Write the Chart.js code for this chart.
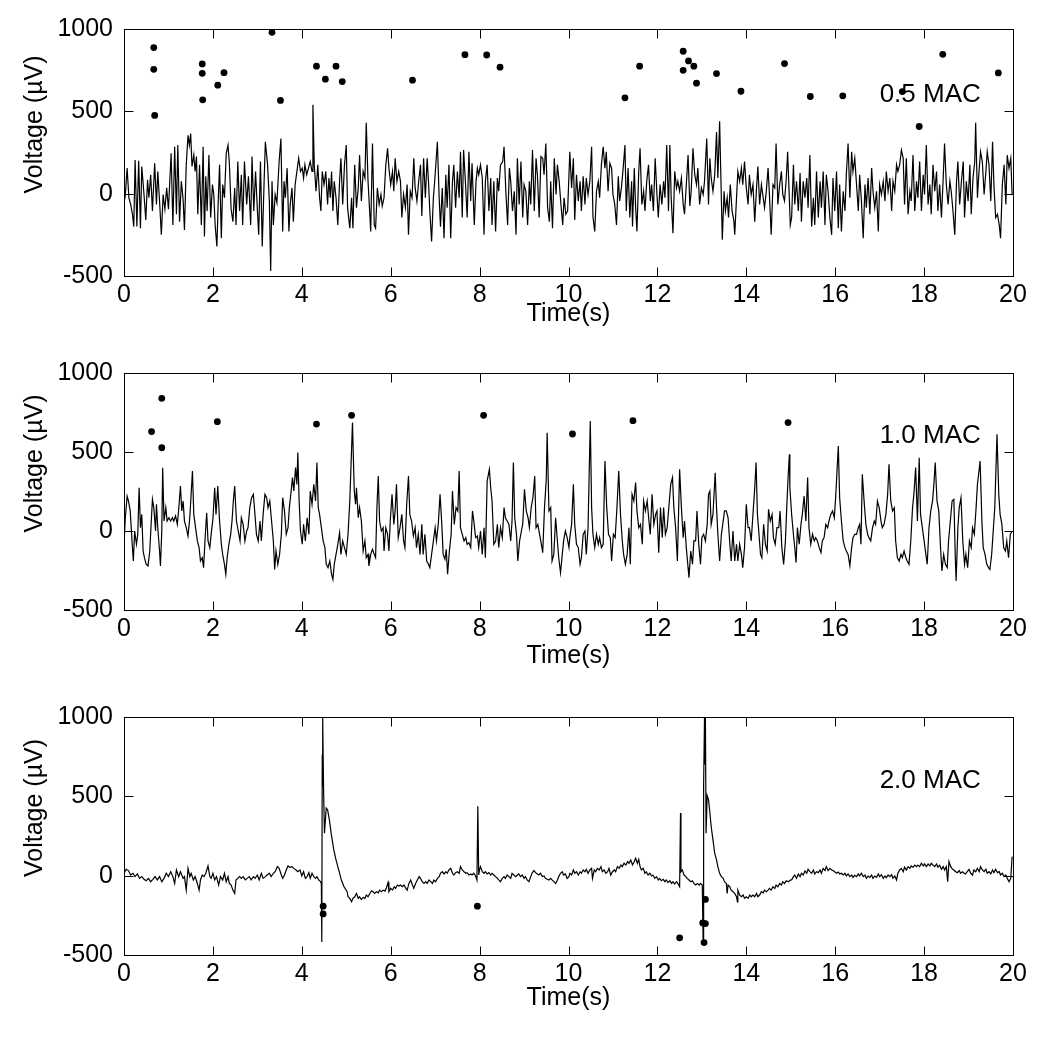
<!DOCTYPE html>
<html>
<head>
<meta charset="utf-8">
<script src="https://cdn.jsdelivr.net/npm/chart.js@4.4.1/dist/chart.umd.min.js"></script>
<style>
body{margin:0;background:#fff;}
#wrap{position:relative;width:1050px;height:1037px;background:#fff;}
.panel{position:absolute;left:0;width:1050px;}
canvas{display:block;}
</style>
</head>
<body>
<div id="wrap">
  <div class="panel" style="top:0;height:344px"><canvas id="c05" width="1050" height="344"></canvas></div>
  <div class="panel" style="top:344px;height:344px"><canvas id="c10" width="1050" height="344"></canvas></div>
  <div class="panel" style="top:688px;height:349px"><canvas id="c20" width="1050" height="349"></canvas></div>
</div>
<script>
// tick labels
const xTicks = [0, 2, 4, 6, 8, 10, 12, 14, 16, 18, 20];
const yTicks = [-500, 0, 500, 1000];

// 0.5 MAC trace (s, µV)
const time05 = [
0.00,0.03,0.07,0.11,0.15,0.19,0.22,0.25,0.29,0.33,
0.37,0.40,0.45,0.49,0.53,0.56,0.60,0.64,0.69,0.73,
0.76,0.80,0.84,0.88,0.92,0.96,1.00,1.03,1.06,1.10,
1.14,1.18,1.21,1.25,1.29,1.33,1.36,1.40,1.44,1.47,
1.50,1.53,1.57,1.60,1.63,1.66,1.70,1.74,1.78,1.81,
1.84,1.87,1.91,1.95,1.99,2.02,2.05,2.09,2.12,2.15,
2.19,2.22,2.26,2.30,2.34,2.37,2.41,2.45,2.49,2.52,
2.56,2.60,2.64,2.67,2.71,2.76,2.80,2.85,2.88,2.92,
2.96,3.00,3.03,3.07,3.11,3.15,3.18,3.23,3.27,3.30,
3.33,3.36,3.40,3.44,3.49,3.53,3.57,3.60,3.63,3.67,
3.71,3.74,3.78,3.81,3.85,3.89,3.93,3.97,4.01,4.04,
4.07,4.11,4.15,4.19,4.23,4.25,4.28,4.32,4.36,4.40,
4.43,4.46,4.50,4.54,4.58,4.61,4.64,4.67,4.70,4.73,
4.77,4.81,4.85,4.88,4.92,4.96,5.00,5.03,
5.08,5.12,5.15,5.19,5.23,5.27,5.30,5.34,5.38,5.42,
5.45,5.49,5.53,5.55,5.59,5.63,5.66,5.70,5.74,5.78,
5.81,5.85,5.89,5.93,5.96,6.00,6.04,6.07,6.10,6.14,
6.18,6.22,6.25,6.29,6.33,6.37,6.40,6.44,6.48,6.52,
6.55,6.59,6.63,6.67,6.70,6.74,6.78,6.82,6.85,6.88,
6.92,6.96,6.99,7.05,7.09,7.12,7.16,7.20,7.24,7.27,
7.31,7.35,7.39,7.42,7.46,7.50,7.54,7.57,7.61,7.64,
7.68,7.72,7.76,7.80,7.83,7.88,7.92,7.95,7.98,8.02,
8.06,8.10,8.13,8.17,8.21,8.25,8.28,8.32,8.36,8.40,
8.43,8.47,8.52,8.55,8.59,8.63,8.67,8.70,8.74,8.78,
8.82,8.85,8.89,8.93,8.97,9.00,9.04,9.08,9.12,9.15,
9.19,9.23,9.27,9.30,9.34,9.38,9.42,9.45,9.49,9.53,
9.57,9.60,9.64,9.68,9.72,9.75,9.79,9.83,9.87,9.90,
9.94,9.98,
10.03,10.07,10.11,10.14,10.18,10.22,10.26,10.29,10.33,10.37,
10.40,10.44,10.48,10.52,10.55,10.59,10.63,10.67,10.70,10.74,
10.78,10.82,10.85,10.89,10.93,10.97,11.00,11.04,11.08,11.12,
11.15,11.19,11.23,11.27,11.30,11.34,11.38,11.42,11.44,11.48,
11.51,11.54,11.58,11.61,11.65,11.69,11.72,11.76,11.80,11.84,
11.87,11.91,11.95,11.99,12.02,12.06,12.10,12.14,12.17,12.21,
12.25,12.28,12.31,12.35,12.39,12.43,12.46,12.50,12.54,12.58,
12.61,12.65,12.69,12.73,12.76,12.80,12.84,12.88,12.91,12.95,
12.99,13.03,13.06,13.11,13.15,13.18,13.21,13.25,13.29,13.33,
13.36,13.40,13.43,13.46,13.50,13.53,13.57,13.60,13.64,13.68,
13.72,13.74,13.78,13.81,13.85,13.89,13.92,13.96,14.00,14.04,
14.07,14.11,14.15,14.19,14.23,14.26,14.30,14.34,14.38,14.41,
14.45,14.49,14.52,14.56,14.60,14.64,14.67,14.71,14.75,14.79,
14.82,14.86,14.90,14.93,14.99,
15.02,15.06,15.09,15.13,15.17,15.21,15.24,15.28,15.32,15.36,
15.39,15.43,15.47,15.51,15.54,15.58,15.62,15.66,15.69,15.73,
15.77,15.80,15.84,15.88,15.92,15.95,15.99,16.03,16.07,16.10,
16.14,16.18,16.22,16.25,16.29,16.33,16.37,16.40,16.44,16.48,
16.52,16.55,16.59,16.63,16.67,16.70,16.74,16.78,16.82,16.85,
16.89,16.93,16.97,17.00,17.04,17.08,17.12,17.15,17.19,17.23,
17.27,17.30,17.34,17.38,17.41,17.45,17.49,17.53,17.56,17.60,
17.64,17.68,17.71,17.75,17.79,17.83,17.86,17.90,17.94,17.98,
18.01,18.05,18.09,18.13,18.16,18.20,18.24,18.28,18.31,18.35,
18.39,18.43,18.46,18.50,18.54,18.58,18.61,18.65,18.69,18.73,
18.76,18.80,18.84,18.88,18.91,18.95,18.99,19.03,19.06,19.10,
19.14,19.16,19.20,19.23,19.27,19.31,19.35,19.39,19.42,19.46,
19.50,19.54,19.57,19.61,19.65,19.69,19.72,19.76,19.80,19.84,
19.87,19.91,19.95,19.98
];
const volt05 = [
55,-5,155,-25,-65,-125,-200,205,-200,200,
-210,165,-5,-160,85,-25,115,-105,185,-65,
135,-45,-250,-5,-95,35,-95,75,245,-190,
285,-125,295,-170,75,-35,-220,175,355,295,
365,165,235,135,225,-125,175,-190,285,-260,
105,-105,235,-145,55,-5,-190,-320,-45,175,
-270,55,-25,245,295,185,-95,-170,35,-190,
195,-105,115,-190,195,-65,105,-190,225,-105,
135,-95,-250,195,-320,55,315,175,-45,-470,
75,-190,-5,-55,195,335,-230,75,-25,155,
-230,-65,35,-170,55,135,215,135,155,95,
175,115,155,195,135,540,175,15,175,-25,
-105,135,55,135,-65,95,-25,135,-105,75,
-25,-190,75,215,-65,175,295,-85,
-210,-25,-210,175,-85,35,235,-45,135,95,
430,75,-125,-230,305,-190,-210,35,-65,-5,
-75,-25,175,275,155,55,135,15,215,75,
135,75,-145,-5,-85,55,-250,15,-25,215,
35,-45,75,175,-135,215,-25,215,75,-105,
-290,-25,75,315,-25,-200,35,-270,115,-85,
175,-270,75,175,-85,135,-25,255,-145,265,
75,-145,255,-45,185,-190,75,155,115,175,
95,-250,75,175,-105,95,-190,75,-230,95,
15,175,195,285,15,-190,155,75,-105,15,
-250,215,-65,195,-145,55,15,-190,75,-65,
265,-105,215,115,-145,225,215,115,305,-85,
-170,75,-210,215,-5,175,75,-65,-190,-25,
-125,-105,
255,35,215,-160,115,-45,75,-105,105,-65,
95,-5,75,285,-140,-230,15,75,-25,175,
285,155,255,15,185,155,-5,-65,-190,105,
-45,35,155,295,-105,155,-145,75,-200,155,
-85,-230,135,275,-65,15,-105,75,175,-45,
55,-105,215,-5,-145,55,-65,75,-25,295,
-105,295,-25,-240,135,35,75,15,95,-65,
-125,55,235,-75,15,275,115,55,155,-65,
35,-5,75,335,-65,215,95,15,115,375,
95,440,75,-280,15,-105,-25,-145,55,-105,
-165,-250,-25,135,75,155,55,195,35,-65,
115,-5,55,-170,35,165,-65,55,-25,-85,
15,155,-5,-250,55,35,305,-65,55,135,
-5,-45,95,255,-190,
-145,175,-65,75,-105,125,-170,75,-25,95,
-85,235,-200,-25,-190,135,-145,75,-85,135,
-190,115,15,-145,-250,95,-105,135,-210,55,
-230,15,-105,115,305,-25,255,135,215,55,
-105,115,-45,-270,55,-85,95,-125,155,15,
-85,15,-230,55,-5,75,-45,135,15,95,
-105,75,15,175,135,175,265,215,-65,215,
-125,15,-45,235,-105,75,-25,195,-105,115,
-5,295,-65,55,-125,175,15,135,-105,55,
-145,95,305,55,-65,75,15,-105,-250,75,
195,-65,75,195,-145,75,-45,175,-125,95,
195,430,-25,115,255,195,-5,135,255,175,
-45,315,55,-145,-125,-190,-270,55,175,-65,
235,155,215,-5
];
const dotTime05 = [0.67,0.67,0.69,1.76,1.76,1.77,2.11,2.25,3.33,3.52,4.33,4.53,4.77,4.91,6.49,7.67,8.16,8.46,11.27,11.60,12.58,12.70,12.58,12.82,12.88,13.33,13.88,14.86,15.44,16.17,17.51,17.89,18.42,19.67];
const dotVolt05 = [887,755,475,788,731,570,659,735,980,566,774,695,774,681,689,844,842,768,582,774,865,806,749,774,671,729,622,790,590,594,620,408,846,733];

// 1.0 MAC trace
const time10 = [
0.00,0.03,0.07,0.10,0.14,0.18,0.21,0.24,0.28,0.31,
0.34,0.37,0.40,0.43,0.46,0.50,0.54,0.58,0.61,0.64,
0.67,0.71,0.73,0.76,0.80,0.82,0.85,0.87,0.90,0.94,
0.97,1.01,1.05,1.09,1.12,1.16,1.20,1.24,1.27,1.30,
1.33,1.36,1.40,1.44,1.48,1.51,1.54,1.57,1.61,1.65,
1.69,1.72,1.76,1.79,1.83,1.86,1.89,1.93,1.96,2.00,
2.04,2.07,2.11,2.15,2.19,2.22,2.26,2.29,2.32,2.36,
2.40,2.43,2.46,2.49,2.53,2.57,2.61,2.64,2.68,2.72,
2.76,2.79,2.83,2.87,2.91,2.94,2.98,3.02,3.06,3.09,
3.13,3.17,3.21,3.24,3.28,3.32,3.36,3.39,3.42,3.46,
3.50,3.54,3.57,3.61,3.65,3.69,3.72,3.76,3.79,3.82,
3.86,3.89,3.91,3.94,3.97,4.01,4.04,4.08,4.12,4.16,
4.19,4.23,4.27,4.31,4.34,4.37,4.40,4.44,4.48,4.52,
4.55,4.59,4.63,4.67,4.70,4.73,4.77,4.81,4.85,4.88,
4.92,4.96,5.00,
5.04,5.08,5.14,5.18,5.21,5.23,5.27,5.30,5.34,5.38,
5.42,5.45,5.49,5.51,5.55,5.59,5.63,5.66,5.69,5.72,
5.75,5.79,5.83,5.85,5.89,5.93,5.96,5.99,6.03,6.07,
6.10,6.13,6.17,6.21,6.25,6.29,6.32,6.36,6.40,6.43,
6.47,6.51,6.55,6.58,6.62,6.66,6.70,6.73,6.77,6.81,
6.85,6.88,6.92,6.96,7.00,7.03,7.07,7.11,7.15,7.18,
7.22,7.25,7.28,7.32,7.36,7.39,7.43,7.47,7.51,7.54,
7.57,7.61,7.65,7.69,7.72,7.76,7.80,7.84,7.87,7.91,
7.95,7.98,8.02,8.06,8.10,8.13,8.17,8.22,8.25,8.28,
8.32,8.36,8.40,8.43,8.47,8.51,8.55,8.58,8.62,8.66,
8.70,8.73,8.76,8.79,8.83,8.86,8.90,8.94,8.97,9.01,
9.05,9.09,9.12,9.16,9.20,9.24,9.27,9.31,9.35,9.39,
9.42,9.46,9.50,9.52,9.56,9.60,9.63,9.67,9.71,9.75,
9.78,9.82,9.86,9.89,9.93,9.97,10.01,
10.03,10.07,10.11,10.14,10.18,10.22,10.26,10.29,10.33,10.37,
10.40,10.44,10.49,10.52,10.55,10.59,10.63,10.67,10.70,10.74,
10.78,10.82,10.86,10.90,10.94,10.97,11.01,11.05,11.09,11.13,
11.17,11.21,11.24,11.28,11.32,11.36,11.39,11.43,11.47,11.51,
11.54,11.58,11.62,11.66,11.69,11.73,11.77,11.81,11.84,11.88,
11.92,11.96,11.99,12.03,12.07,12.11,12.14,12.18,12.22,12.25,
12.30,12.34,12.37,12.41,12.45,12.50,12.54,12.58,12.61,12.65,
12.69,12.71,12.75,12.79,12.82,12.86,12.89,12.93,12.97,13.00,
13.04,13.08,13.12,13.15,13.18,13.21,13.25,13.30,13.33,13.36,
13.40,13.44,13.48,13.51,13.55,13.59,13.63,13.66,13.70,13.74,
13.78,13.81,13.85,13.89,13.92,13.96,14.00,14.04,14.07,14.11,
14.15,14.19,14.22,14.25,14.28,14.32,14.35,14.39,14.43,14.47,
14.50,14.54,14.58,14.61,14.65,14.69,14.73,14.76,14.80,14.84,
14.88,14.91,14.94,14.97,
14.98,15.02,15.06,15.09,15.12,15.15,15.19,15.23,15.26,15.30,
15.34,15.38,15.41,15.45,15.49,15.53,15.56,15.60,15.64,15.68,
15.71,15.75,15.79,15.83,15.86,15.90,15.94,15.98,16.01,16.07,
16.10,16.14,16.18,16.22,16.25,16.29,16.33,16.37,16.40,16.44,
16.48,16.52,16.55,16.58,16.61,16.65,16.69,16.73,16.76,16.80,
16.84,16.88,16.91,16.95,16.99,17.03,17.06,17.10,17.14,17.18,
17.21,17.25,17.29,17.33,17.36,17.40,17.44,17.48,17.51,17.55,
17.59,17.62,17.66,17.70,17.74,17.77,17.81,17.85,17.89,17.92,
17.96,18.00,18.04,18.07,18.11,18.15,18.19,18.22,18.25,18.29,
18.33,18.37,18.40,18.44,18.48,18.52,18.55,18.59,18.63,18.67,
18.70,18.72,18.76,18.79,18.83,18.87,18.91,18.94,18.98,19.02,
19.06,19.09,19.13,19.17,19.20,19.26,19.30,19.33,19.37,19.41,
19.45,19.48,19.52,19.56,19.59,19.64,19.68,19.71,19.75,19.79,
19.83,19.86,19.90,19.94,19.98
];
const volt10 = [
-84,84,221,190,127,-63,-190,0,-84,-21,
274,21,105,-127,-169,-211,-221,-127,42,200,
148,0,169,21,-127,-221,0,401,63,148,
63,84,63,84,63,95,42,169,285,127,
190,63,21,-32,84,232,380,105,21,-63,
-105,-190,-169,-232,-21,116,-63,-105,-21,74,
274,105,285,63,-84,-148,-211,-274,-169,-84,
-21,63,190,285,63,0,-63,84,42,-63,
0,21,148,211,232,127,-21,-63,63,-63,
105,232,211,148,190,63,-63,-243,-127,-211,
-148,-21,211,127,-21,21,148,253,338,253,
401,295,496,190,0,-84,42,-63,84,-21,
253,169,295,190,433,148,105,21,-63,-105,
-211,-232,-190,-274,-306,-211,-148,-84,-11,-148,
-63,-105,-148,
-21,190,686,253,169,274,84,148,63,-127,
-63,-169,-148,-221,-148,-116,-148,-169,148,348,
63,0,21,-127,21,-21,-127,63,232,42,
127,295,-42,21,105,-63,-105,169,348,105,
63,-32,21,-105,-21,-148,42,-148,-21,-190,
-211,-232,-148,-63,21,-63,42,232,42,-148,
-179,-116,-274,-127,-21,253,42,148,127,380,
21,-21,-63,-42,-84,-74,-105,127,63,-42,
-32,-105,0,-148,21,-169,317,390,274,190,
-84,-63,42,-105,21,-42,148,84,63,42,
-63,63,433,84,-21,-190,-63,0,42,264,
127,84,21,148,211,348,21,42,-21,-84,
-137,148,327,622,127,148,-190,-148,84,-63,
-169,-264,-148,-63,0,-42,-105,
-42,42,295,42,-84,-105,-211,-169,-21,0,
-148,21,696,148,-21,-105,-21,-84,-42,-105,
-84,443,148,-21,-42,-190,-21,-42,148,380,
105,-63,-148,-211,-148,21,-211,232,190,306,
127,21,42,-84,190,127,190,63,-21,232,
42,105,127,-137,148,-42,148,-21,21,127,
295,338,148,21,-190,390,148,-42,63,-105,
-232,-295,-127,-211,-63,-63,127,-84,-211,-42,
-21,-63,42,232,253,42,105,369,148,-21,
-190,-21,63,127,127,84,-84,-190,0,-190,
-84,-190,-84,-148,-232,-105,169,21,21,-63,
105,274,433,105,0,-148,-169,42,-84,-127,
137,63,105,-42,-84,21,21,127,-105,-211,
-63,148,338,485,
274,105,-21,-105,-200,21,-84,42,105,221,
63,338,21,-84,-21,-63,-42,-63,-105,-137,
-63,-42,42,21,63,105,127,84,211,538,
211,63,-63,-105,-127,-148,-221,-105,-42,-21,
-21,21,42,-84,359,190,42,-21,-42,-63,
21,63,42,190,148,63,21,42,105,232,
422,190,127,148,-63,-169,-190,-148,-169,-127,
-169,-190,-211,-63,148,232,401,63,464,105,
21,-63,-148,-211,21,127,190,295,433,190,
127,-105,-253,-148,-211,-232,-63,63,190,200,
-148,-317,21,148,211,-63,-211,-148,-232,-63,
-105,21,-21,148,295,443,63,-105,-148,-211,
-232,-243,-148,21,148,612,232,105,42,-105,
-127,-63,-169,-21,0
];
const dotTime10 = [0.62,0.85,0.85,2.10,4.33,5.12,8.09,10.09,11.45,14.94];
const dotVolt10 = [629,840,527,692,677,732,732,614,698,686];

// 2.0 MAC trace
const time20 = [
0.00,0.05,0.10,0.15,0.20,0.25,0.30,0.35,0.40,0.45,
0.50,0.55,0.60,0.65,0.70,0.75,0.80,0.85,0.90,0.95,
1.00,1.05,1.10,1.14,1.18,1.23,1.27,1.33,1.36,1.40,
1.44,1.48,1.51,1.56,1.60,1.65,1.69,1.72,1.76,1.80,
1.84,1.89,1.93,1.96,2.00,2.04,2.08,2.13,2.17,2.22,
2.26,2.30,2.34,2.37,2.41,2.45,2.49,2.52,2.56,2.60,
2.64,2.68,2.73,2.77,2.82,2.86,2.91,2.95,3.00,3.04,
3.09,3.13,3.18,3.22,3.27,3.31,3.36,3.40,3.45,3.49,
3.54,3.57,3.61,3.65,3.69,3.73,3.78,3.82,3.87,3.91,
3.96,4.00,4.04,4.08,4.12,4.16,4.19,4.23,4.27,4.31,
4.34,4.38,4.42,4.44,4.45,4.46,4.465,4.47,4.475,4.49,
4.51,4.55,4.58,4.62,4.66,4.72,4.77,4.83,4.89,4.95,
5.02,
5.04,5.08,5.12,5.15,5.19,5.23,5.27,5.30,5.34,5.38,
5.42,5.45,5.49,5.53,5.57,5.60,5.64,5.68,5.72,5.75,
5.79,5.83,5.87,5.90,5.94,5.96,6.00,6.04,6.08,6.11,
6.15,6.19,6.22,6.26,6.30,6.34,6.37,6.41,6.45,6.49,
6.52,6.56,6.60,6.64,6.67,6.71,6.75,6.79,6.82,6.86,
6.90,6.94,6.97,7.01,7.05,7.09,7.12,7.16,7.20,7.24,
7.27,7.31,7.35,7.39,7.42,7.46,7.50,7.54,7.57,7.61,
7.65,7.69,7.72,7.76,7.80,7.83,7.87,7.91,7.94,7.96,
7.98,8.00,8.02,8.06,8.10,8.13,8.17,8.21,8.25,8.28,
8.32,8.36,8.40,8.43,8.47,8.51,8.55,8.58,8.62,8.66,
8.70,8.73,8.77,8.81,8.85,8.88,8.92,8.96,9.00,9.03,
9.07,9.11,9.15,9.18,9.22,9.26,9.30,9.33,9.37,9.41,
9.45,9.48,9.52,9.56,9.60,9.63,9.67,9.71,9.75,9.78,
9.82,9.86,9.89,9.93,9.97,10.01,
10.03,10.07,10.11,10.14,10.18,10.22,10.26,10.29,10.33,10.37,
10.40,10.44,10.48,10.52,10.54,10.58,10.61,10.65,10.69,10.73,
10.76,10.80,10.84,10.88,10.91,10.95,10.99,11.03,11.06,11.10,
11.14,11.18,11.21,11.25,11.29,11.33,11.36,11.40,11.44,11.48,
11.51,11.55,11.58,11.61,11.64,11.68,11.72,11.75,11.79,11.83,
11.87,11.90,11.94,11.98,12.02,12.05,12.09,12.13,12.17,12.20,
12.24,12.28,12.32,12.35,12.39,12.43,12.46,12.50,12.52,12.53,
12.56,12.60,12.64,12.67,12.71,12.75,12.79,12.82,12.86,12.90,
12.94,12.97,13.01,13.03,13.04,13.06,13.065,13.08,13.095,13.12,
13.15,13.18,13.21,13.25,13.29,13.33,13.36,13.40,13.44,13.48,
13.51,13.55,13.57,13.59,13.63,13.66,13.70,13.74,13.78,13.80,
13.81,13.85,13.89,13.93,13.96,14.00,14.04,14.08,14.11,14.15,
14.19,14.23,14.26,14.30,14.34,14.38,14.41,14.45,14.49,14.52,
14.56,14.60,14.64,14.67,14.71,14.75,14.79,14.82,14.86,14.90,
14.94,15.00,
15.02,15.06,15.09,15.13,15.17,15.21,15.24,15.28,15.32,15.36,
15.39,15.43,15.47,15.51,15.54,15.58,15.62,15.66,15.69,15.73,
15.77,15.80,15.84,15.88,15.92,15.95,15.99,16.03,16.07,16.10,
16.14,16.18,16.22,16.25,16.29,16.33,16.37,16.40,16.44,16.48,
16.52,16.55,16.59,16.63,16.67,16.70,16.74,16.78,16.82,16.85,
16.89,16.93,16.97,17.00,17.04,17.08,17.12,17.15,17.19,17.23,
17.27,17.30,17.34,17.38,17.41,17.45,17.49,17.53,17.56,17.60,
17.64,17.68,17.71,17.75,17.79,17.83,17.86,17.90,17.94,17.98,
18.01,18.05,18.09,18.13,18.16,18.20,18.24,18.28,18.31,18.35,
18.39,18.43,18.46,18.50,18.53,18.56,18.60,18.64,18.67,18.71,
18.75,18.79,18.82,18.86,18.90,18.93,18.97,19.01,19.05,19.09,
19.12,19.16,19.20,19.24,19.27,19.31,19.35,19.39,19.42,19.46,
19.50,19.54,19.57,19.61,19.65,19.69,19.72,19.76,19.80,19.84,
19.87,19.91,19.95,19.98
];
const volt20 = [
15,40,32,4,15,-6,11,-17,-6,-23,
-32,-17,-38,-23,-6,-27,-6,-38,-17,15,
-6,25,-6,-49,36,-6,25,-17,-6,-91,
46,-6,15,-27,-6,-49,-91,-27,4,-6,
15,61,-6,-17,15,-27,-6,-59,-6,-27,
15,-38,-6,-49,-59,-91,-112,-27,-17,-6,
-17,-6,-27,-17,-6,-27,-6,-17,4,-27,
15,-17,-6,4,15,-6,15,25,57,46,
4,-17,4,36,61,53,57,46,36,25,
36,-2,25,-17,-6,19,-17,15,-6,-17,
-6,-27,-38,-49,-418,764,560,700,1000,540,
268,426,416,353,268,162,99,36,-27,-70,
-101,
-133,-143,-165,-143,-133,-112,-143,-133,-150,-137,
-143,-122,-133,-112,-95,-101,-112,-101,-108,-91,
-101,-91,-97,-80,-42,-101,-80,-91,-70,-80,
-59,-65,-59,-70,-59,-80,-91,-49,-27,-59,
-80,-49,-27,-6,-17,-38,-49,-38,-49,-27,
-38,-49,-27,-38,-17,-6,15,25,11,25,
15,36,46,15,4,19,25,15,57,36,
25,15,19,4,11,4,15,-2,-27,437,
4,40,57,25,15,25,11,19,4,15,
4,-6,-17,-27,-38,-17,-6,-17,4,-6,
-17,15,4,-6,4,11,-6,4,-17,-6,
-27,-38,-6,15,32,19,11,4,15,-6,
-2,-17,-23,-27,-17,-27,-38,-49,-27,-6,
15,25,4,11,-17,-6,
15,4,36,15,25,4,25,15,36,25,
40,15,36,46,-17,36,25,46,36,57,
25,36,15,25,46,4,25,36,25,57,
46,67,57,78,67,89,78,99,67,89,
110,78,103,57,36,46,15,25,4,15,
-2,4,-17,-6,-27,-17,-32,-23,-38,-27,
-44,-32,-49,-38,-53,-38,-49,-70,395,25,
36,4,-6,-17,-27,-38,-32,-49,-59,-49,
-59,-49,-59,-428,574,1000,700,1000,268,505,
480,400,310,226,141,99,57,15,-6,-17,
-38,-49,-112,-59,-70,-91,-101,-112,-133,-165,
-91,-122,-133,-122,-143,-133,-143,-122,-133,-122,
-133,-112,-133,-122,-101,-108,-91,-101,-91,-80,
-91,-70,-80,-59,-70,-49,-59,-38,-49,-32,
-38,-27,
-27,-6,4,-17,11,-6,15,4,30,15,
40,25,15,36,11,25,19,36,15,46,
32,57,32,46,36,32,25,15,23,11,
15,4,15,-2,11,-6,4,-11,2,-6,
11,-2,15,-6,4,-17,-2,-11,4,-17,
-2,-11,11,-6,6,-17,-2,-13,4,-6,
6,-17,-2,-27,15,36,46,25,53,36,
57,46,61,53,67,57,67,57,78,61,
74,57,74,61,78,67,57,74,53,65,
40,57,36,57,-38,89,57,40,36,25,
19,32,15,25,15,11,25,40,15,4,
36,25,46,25,57,36,25,40,15,25,
11,36,19,40,19,25,4,15,-6,4,
-17,-38,-17,120
];
const dotTime20 = [4.48,4.48,7.95,12.50,13.05,13.02,13.08,13.08];
const dotVolt20 = [-192,-241,-192,-392,-422,-298,-302,-150];

const FONT = "'Liberation Sans', Arial, Helvetica, sans-serif";
const axisFont = {family: FONT, size: 25};

// frame, inward tick marks, y label and the MAC label
const boxPlugin = {
  id: 'box',
  afterDraw(chart, args, opts) {
    const {ctx, chartArea: a, scales: {x, y}} = chart;
    const L = Math.round(a.left) + 0.5, R = Math.round(a.right) + 0.5;
    const T = Math.round(a.top) + 0.5, B = Math.round(a.bottom) + 0.5;
    ctx.save();
    ctx.strokeStyle = '#000';
    ctx.lineWidth = 1;
    ctx.strokeRect(L, T, R - L, B - T);
    ctx.beginPath();
    xTicks.forEach(v => {
      const px = Math.round(x.getPixelForValue(v)) + 0.5;
      ctx.moveTo(px, B); ctx.lineTo(px, B - 9);
      ctx.moveTo(px, T); ctx.lineTo(px, T + 9);
    });
    yTicks.forEach(v => {
      const py = Math.round(y.getPixelForValue(v)) + 0.5;
      ctx.moveTo(L, py); ctx.lineTo(L + 9, py);
      ctx.moveTo(R, py); ctx.lineTo(R - 9, py);
    });
    ctx.stroke();
    ctx.fillStyle = '#000';
    // y axis label, sits a bit above the middle like the original
    ctx.save();
    ctx.translate(35, (a.top + a.bottom) / 2 - 28);
    ctx.rotate(-Math.PI / 2);
    ctx.font = '25px ' + FONT;
    ctx.textAlign = 'center';
    ctx.textBaseline = 'middle';
    ctx.fillText('Voltage (µV)', 0, 0);
    ctx.restore();
    ctx.font = '26px ' + FONT;
    ctx.textAlign = 'left';
    ctx.textBaseline = 'middle';
    ctx.fillText(opts.text, x.getPixelForValue(17.0), y.getPixelForValue(600));
    ctx.restore();
  }
};

const panels = [
  {id: 'c05', label: '0.5 MAC', time: time05, volt: volt05, dotT: dotTime05, dotV: dotVolt05, h: 344, plotBottom: 276, titleY: 314},
  {id: 'c10', label: '1.0 MAC', time: time10, volt: volt10, dotT: dotTime10, dotV: dotVolt10, h: 344, plotBottom: 266, titleY: 312},
  {id: 'c20', label: '2.0 MAC', time: time20, volt: volt20, dotT: dotTime20, dotV: dotVolt20, h: 349, plotBottom: 267, titleY: 310}
];

panels.forEach(p => {
  const trace = p.time.map((t, i) => ({x: t, y: p.volt[i]}));
  const dots = p.dotT.map((t, i) => ({x: t, y: p.dotV[i]}));
  new Chart(document.getElementById(p.id), {
    type: 'scatter',
    data: {
      datasets: [
        {data: trace, showLine: true, borderColor: '#000', borderWidth: 1.2, pointRadius: 0, tension: 0},
        {data: dots, showLine: false, pointRadius: 3.4, pointBackgroundColor: '#000', pointBorderWidth: 0}
      ]
    },
    options: {
      responsive: false,
      animation: false,
      devicePixelRatio: 1,
      layout: {padding: {left: 0, right: 37, top: 29, bottom: 0}},
      plugins: {legend: {display: false}, tooltip: {enabled: false}, box: {text: p.label}},
      scales: {
        x: {
          type: 'linear', min: 0, max: 20,
          grid: {display: false, drawTicks: false},
          border: {display: false},
          ticks: {stepSize: 2, padding: 4, color: '#000', font: axisFont, maxRotation: 0, autoSkip: false, callback: v => String(v)},
          title: {display: true, text: 'Time(s)', color: '#000', font: axisFont, padding: {top: 0, bottom: p.h - p.titleY - 15}},
          afterFit(s) { s.height = p.h - p.plotBottom; }
        },
        y: {
          min: -500, max: 1000,
          grid: {display: false, drawTicks: false},
          border: {display: false},
          ticks: {stepSize: 500, padding: 11, color: '#000', font: axisFont, callback: v => String(v)},
          title: {display: false},
          afterFit(s) { s.width = 124; }
        }
      }
    },
    plugins: [boxPlugin]
  });
});
</script>
</body>
</html>
